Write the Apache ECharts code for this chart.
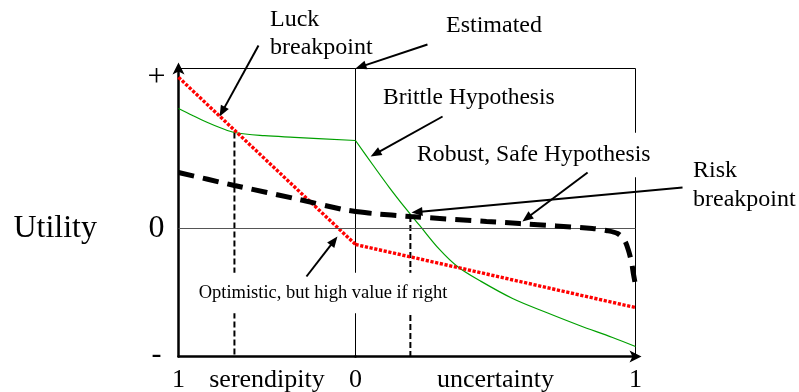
<!DOCTYPE html>
<html>
<head>
<meta charset="utf-8">
<script src="https://cdn.jsdelivr.net/npm/echarts@6/dist/echarts.min.js"></script>
<style>
  html, body { margin: 0; padding: 0; background: #fff; }
  #chart { width: 799px; height: 392px; }
</style>
</head>
<body>
<div id="chart"></div>
<script>
// Utility of three hypotheses around an estimate.
// Left half: serendipity falls from 1 (far left) to 0 at the estimate.
// Right half: uncertainty rises from 0 at the estimate to 1.
// Points are [horizon, utility]; utility runs from -0.8 ("-") to 1 ("+").

// Optimistic, but high value if right (red, dotted)
const optimisticSerendipity = [[1, 0.945], [0, -0.1]];
const optimisticUncertainty = [[0, -0.1], [1, -0.494]];

// Brittle hypothesis (green)
const brittleSerendipity = [
  [1, 0.75], [0.92, 0.706], [0.836, 0.6625], [0.76, 0.628], [0.684, 0.6],
  [0.514, 0.58], [0.345, 0.57], [0, 0.55]
];
const brittleUncertainty = [
  [0, 0.55], [0.061, 0.4], [0.121, 0.256], [0.182, 0.119], [0.229, 0.019],
  [0.3, -0.131], [0.364, -0.2375], [0.443, -0.325], [0.561, -0.4375],
  [0.682, -0.525], [0.8, -0.606], [0.918, -0.681], [1, -0.7375]
];

// Robust, safe hypothesis (black, dashed)
const robustSerendipity = [[1, 0.35], [0.684, 0.269], [0.316, 0.181], [0.073, 0.119], [0, 0.106]];
const robustUncertainty = [
  [0, 0.106], [0.061, 0.094], [0.196, 0.075], [0.468, 0.044], [0.586, 0.031],
  [0.846, 0], [0.896, -0.0125], [0.936, -0.031], [0.961, -0.075], [0.975, -0.1375],
  [0.986, -0.2125], [0.993, -0.2875], [1, -0.355]
];

// Breakpoints: where the optimistic line meets the brittle one, and where brittle meets robust
const luckBreakpoint = [0.684, 0.6];   // serendipity side
const riskBreakpoint = [0.196, 0.078]; // uncertainty side

const UTIL_MIN = -0.8, UTIL_MAX = 1;
const horizonTicks = { serendipity: ['1', '0'], uncertainty: ['1'] };
const utilityTicks = { top: '+', zero: '0', bottom: '-' };
const utilityTitle = 'Utility';

const FONT = '"Liberation Serif", "Times New Roman", Times, serif';
const INK = '#000';

const chart = echarts.init(document.getElementById('chart'), null, { renderer: 'canvas' });

function xAxisFor(grid, name, withArrow) {
  return {
    gridIndex: grid, type: 'value', min: 0, max: 1, interval: 1,
    inverse: grid === 0,
    axisLine: {
      show: true, onZero: false,
      lineStyle: { color: INK, width: 2.5 },
      symbol: withArrow ? ['none', 'arrow'] : 'none',
      symbolSize: [9, 12], symbolOffset: [0, 6]
    },
    axisTick: { show: false },
    splitLine: { show: false },
    axisLabel: {
      margin: 11, fontFamily: FONT, fontSize: 26, color: INK,
      formatter: v => grid === 0 ? (v === 1 ? horizonTicks.serendipity[0] : horizonTicks.serendipity[1])
                                 : (v === 1 ? horizonTicks.uncertainty[0] : '')
    },
    name: name, nameLocation: 'middle', nameGap: 11, nameMoveOverlap: false,
    nameTextStyle: { fontFamily: FONT, fontSize: 26, color: INK, verticalAlign: 'top' }
  };
}

function yAxisFor(grid) {
  const base = {
    gridIndex: grid, type: 'value', min: UTIL_MIN, max: UTIL_MAX, interval: 0.8,
    splitLine: { show: false }, axisTick: { show: false }
  };
  if (grid === 1) {
    return Object.assign(base, { axisLine: { show: false }, axisLabel: { show: false } });
  }
  return Object.assign(base, {
    axisLine: {
      show: true, onZero: false,
      lineStyle: { color: INK, width: 2.5 },
      symbol: ['none', 'arrow'], symbolSize: [9, 12], symbolOffset: [0, 6]
    },
    axisLabel: {
      margin: 22, align: 'center', color: INK,
      formatter: v => {
        if (Math.abs(v - UTIL_MAX) < 1e-9) return '{p|' + utilityTicks.top + '}';
        if (Math.abs(v) < 1e-9) return '{z|' + utilityTicks.zero + '}';
        if (Math.abs(v - UTIL_MIN) < 1e-9) return '{m|' + utilityTicks.bottom + '}';
        return '';
      },
      rich: {
        p: { fontFamily: FONT, fontSize: 32, color: INK, padding: [18, 0, 0, 0] },
        z: { fontFamily: FONT, fontSize: 32, color: INK },
        m: { fontFamily: FONT, fontSize: 30, color: INK, padding: [0, 0, 2, 0] }
      }
    }
  });
}

const zeroLine = {
  silent: true, symbol: 'none', label: { show: false },
  lineStyle: { color: '#555', width: 1, type: 'solid' },
  data: [{ yAxis: 0 }]
};

function breakpointDrop(grid, pt) {
  return {
    type: 'line', xAxisIndex: grid, yAxisIndex: grid, z: 1,
    data: [pt, [pt[0], UTIL_MIN]], symbol: 'none', silent: true,
    lineStyle: { color: INK, width: 2, type: [6, 3] }
  };
}

function curve(grid, data, style, smooth, extra) {
  return Object.assign({
    type: 'line', xAxisIndex: grid, yAxisIndex: grid,
    data: data, symbol: 'none', silent: true, smooth: smooth || false,
    lineStyle: style
  }, extra || {});
}

const brittleStyle = { color: '#00a000', width: 1.2 };
const optimisticStyle = { color: '#ff0000', width: 3.4, type: [3.2, 1.6], cap: 'butt' };
const robustStyle = { color: INK, width: 5, type: [16, 9], cap: 'butt' };

chart.setOption({
  animation: false,
  backgroundColor: '#fff',
  grid: [
    { left: 178.5, top: 68.5, width: 177, height: 288, show: true, borderColor: INK, borderWidth: 1,
      backgroundColor: 'transparent', containLabel: false, outerBoundsMode: 'none' },
    { left: 355.5, top: 68.5, width: 280, height: 288, show: true, borderColor: INK, borderWidth: 1,
      backgroundColor: 'transparent', containLabel: false, outerBoundsMode: 'none' }
  ],
  xAxis: [xAxisFor(0, 'serendipity', false), xAxisFor(1, 'uncertainty', true)],
  yAxis: [yAxisFor(0), yAxisFor(1)],
  series: [
    breakpointDrop(0, luckBreakpoint),
    breakpointDrop(1, riskBreakpoint),
    curve(0, brittleSerendipity, brittleStyle, 0.35, { z: 3 }),
    curve(1, brittleUncertainty, brittleStyle, 0.35, { z: 3 }),
    curve(0, optimisticSerendipity, optimisticStyle, false, { z: 4, markLine: zeroLine }),
    curve(1, optimisticUncertainty, optimisticStyle, false, { z: 4, markLine: zeroLine }),
    curve(0, robustSerendipity, robustStyle, 0.2, { z: 5 }),
    curve(1, robustUncertainty, robustStyle, 0.3, { z: 5 })
  ]
});

// Callout arrows, anchored in each half's own data coordinates
const callouts = [
  { grid: 0, from: [0.548, 1.144], to: [0.768, 0.7] },   // luck breakpoint
  { grid: 1, from: [0.257, 1.15], to: [0, 1] },          // estimated
  { grid: 1, from: [0.311, 0.7], to: [0.054, 0.45] },    // brittle hypothesis
  { grid: 1, from: [0.829, 0.35], to: [0.596, 0.044] },  // robust, safe hypothesis
  { grid: 1, from: [1.168, 0.256], to: [0.2, 0.1] },     // risk breakpoint
  { grid: 0, from: [0.277, -0.3], to: [0.102, -0.05] }   // optimistic
];

// Text labels placed around the plot
const notes = [
  { text: 'Luck\nbreakpoint', x: 270, y: 33.5, size: 24, align: 'left' },
  { text: 'Estimated', x: 446, y: 26, size: 24, align: 'left' },
  { text: 'Brittle Hypothesis', x: 383, y: 98, size: 23.5, align: 'left' },
  { text: 'Robust, Safe Hypothesis', x: 413, y: 155, size: 23.7, align: 'left', box: [8, 4] },
  { text: 'Risk\nbreakpoint', x: 693, y: 185, size: 24, align: 'left' },
  { text: 'Optimistic, but high value if right', x: 323, y: 293, size: 18.5, align: 'center', box: [6, 3] }
];

const graphics = [];
callouts.forEach(a => {
  const finder = { xAxisIndex: a.grid, yAxisIndex: a.grid };
  const p0 = chart.convertToPixel(finder, a.from);
  const p1 = chart.convertToPixel(finder, a.to);
  const dx = p1[0] - p0[0], dy = p1[1] - p0[1];
  const len = Math.hypot(dx, dy), ux = dx / len, uy = dy / len;
  const L = 11, W = 4.5;
  const bx = p1[0] - ux * L, by = p1[1] - uy * L;
  graphics.push({
    type: 'line', z: 120, silent: true,
    shape: { x1: p0[0], y1: p0[1], x2: bx + ux * 2, y2: by + uy * 2 },
    style: { stroke: INK, lineWidth: 2 }
  });
  graphics.push({
    type: 'polygon', z: 120, silent: true,
    shape: { points: [[p1[0], p1[1]], [bx - uy * W, by + ux * W], [bx + uy * W, by - ux * W]] },
    style: { fill: INK }
  });
});
notes.forEach(n => {
  const style = {
    text: n.text, fill: INK, fontFamily: FONT, fontSize: n.size,
    align: n.align, verticalAlign: 'middle', lineHeight: 28.5
  };
  if (n.box) { style.backgroundColor = '#fff'; style.padding = n.box; }
  graphics.push({ type: 'text', x: n.x, y: n.y, z: 110, silent: true, style: style });
});

// Axis title, level with the zero line of the utility axis
const zeroY = chart.convertToPixel({ xAxisIndex: 0, yAxisIndex: 0 }, [1, 0])[1];
graphics.push({
  type: 'text', x: 97, y: zeroY, z: 110, silent: true,
  style: { text: utilityTitle, fill: INK, fontFamily: FONT, fontSize: 32, align: 'right', verticalAlign: 'middle' }
});

chart.setOption({ graphic: graphics });
</script>
</body>
</html>
